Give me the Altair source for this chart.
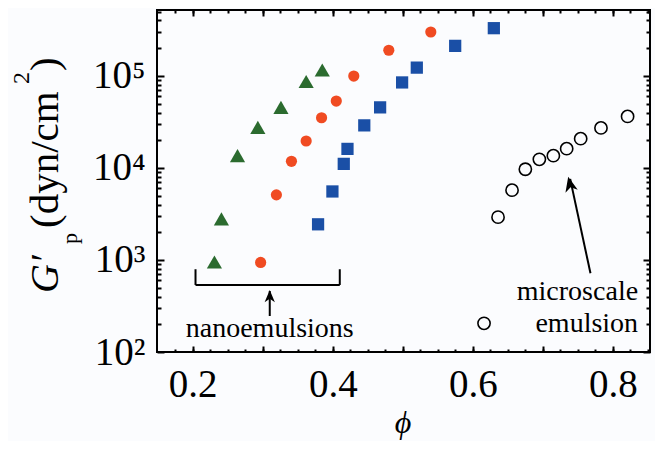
import altair as alt
import pandas as pd

# ---- data ----
tri_phi = [0.231, 0.241, 0.264, 0.293, 0.326, 0.362, 0.385]
tri_g = [950, 2800, 13600, 27600, 45500, 86900, 116000]

circ_phi = [0.297, 0.3195, 0.341, 0.362, 0.384, 0.405, 0.430, 0.480, 0.540]
circ_g = [940, 5100, 11800, 19600, 35100, 53300, 99600, 190000, 300000]

sq_phi = [0.379, 0.3995, 0.4157, 0.421, 0.445, 0.4676, 0.499, 0.520, 0.5748, 0.630]
sq_g = [2440, 5550, 11070, 16100, 29000, 45500, 84900, 123000, 212000, 330000]

open_phi = [0.616, 0.636, 0.656, 0.675, 0.695, 0.715, 0.734, 0.754, 0.783, 0.821]
open_g = [205, 2920, 5730, 9680, 12400, 13600, 16200, 20800, 27200, 36300]

# annotation geometry (data coordinates)
line_x1 = [0.204, 0.204, 0.41, 0.31, 0.768]
line_x2 = [0.204, 0.41, 0.41, 0.31, 0.739]
line_y1 = [793, 535, 793, 246, 716]
line_y2 = [535, 535, 535, 460, 7600]

nano_head_phi = [0.31]
nano_head_g = [472]
micro_head_phi = [0.7362]
micro_head_g = [8035]

nano_label_phi = [0.31]
nano_label_g = [146]
nano_label = ["nanoemulsions"]
micro_label_phi = [0.836, 0.836]
micro_label_g = [367, 166]
micro_label = ["microscale", "emulsion"]

x_major = [0.2, 0.3, 0.4, 0.5, 0.6, 0.7, 0.8]
x_minor = [0.175, 0.2, 0.225, 0.25, 0.275, 0.3, 0.325, 0.35, 0.375, 0.4, 0.425,
           0.45, 0.475, 0.5, 0.525, 0.55, 0.575, 0.6, 0.625, 0.65, 0.675, 0.7,
           0.725, 0.75, 0.775, 0.8, 0.825, 0.85]
y_major = [100, 1000, 10000, 100000]
y_minor = [200, 300, 400, 500, 600, 700, 800, 900,
           2000, 3000, 4000, 5000, 6000, 7000, 8000, 9000,
           20000, 30000, 40000, 50000, 60000, 70000, 80000, 90000,
           200000, 300000, 400000, 500000]

FONT = "Liberation Serif"
XS = alt.Scale(domain=[0.149, 0.853], nice=False, zero=False)
YS = alt.Scale(type="log", domain=[100, 520000], nice=False)


def df(phi, g):
    return pd.DataFrame({"phi": phi, "g": g})


def enc(chart, xaxis=None, yaxis=None):
    return chart.encode(
        x=alt.X("phi:Q", scale=XS, axis=xaxis),
        y=alt.Y("g:Q", scale=YS, axis=yaxis),
    )


all_df = df(tri_phi + circ_phi + sq_phi + open_phi, tri_g + circ_g + sq_g + open_g)

common_tick = dict(domain=False, grid=False, tickColor="black", tickWidth=2,
                   labelFont=FONT, labelColor="black", labelOverlap=False,
                   labelFlush=False)

ax_bottom = alt.Axis(orient="bottom", values=x_major, tickSize=6, offset=-6,
                     labelExpr="indexof(['0.2','0.4','0.6','0.8'], format(datum.value,'.1f')) >= 0 ? format(datum.value,'.1f') : ''",
                     labelFontSize=39, labelPadding=13, title=None, **common_tick)
ax_top = alt.Axis(orient="top", values=x_major, tickSize=6, offset=-6,
                  labels=False, title=None, **common_tick)
ax_bottom_minor = alt.Axis(orient="bottom", values=x_minor, tickSize=3, offset=-3,
                           labels=False, title=None, **common_tick)
ax_top_minor = alt.Axis(orient="top", values=x_minor, tickSize=3, offset=-3,
                        labels=False, title=None, **common_tick)

ax_left = alt.Axis(orient="left", values=y_major, tickSize=7, offset=-7,
                   labelExpr="datum.value == 100 ? '10²' : datum.value == 1000 ? '10³' : datum.value == 10000 ? '10⁴' : '10⁵'",
                   labelFontSize=39, labelPadding=12, title=None, **common_tick)
ax_right = alt.Axis(orient="right", values=y_major, tickSize=7, offset=-7,
                    labels=False, title=None, **common_tick)
ax_left_minor = alt.Axis(orient="left", values=y_minor, tickSize=4, offset=-4,
                         labels=False, title=None, **common_tick)
ax_right_minor = alt.Axis(orient="right", values=y_minor, tickSize=4, offset=-4,
                          labels=False, title=None, **common_tick)

base_axes = alt.Chart(all_df).mark_point(opacity=0)
axis_layers = [
    enc(base_axes, ax_bottom, ax_left),
    enc(base_axes, ax_top, ax_right),
    enc(base_axes, ax_bottom_minor, ax_left_minor),
    enc(base_axes, ax_top_minor, ax_right_minor),
]

tri = enc(alt.Chart(df(tri_phi, tri_g)).mark_point(
    shape="triangle-up", filled=True, color="#2b6b2f", opacity=1, size=230))
circ = enc(alt.Chart(df(circ_phi, circ_g)).mark_point(
    shape="circle", filled=True, color="#f04b22", opacity=1, size=125))
sq = enc(alt.Chart(df(sq_phi, sq_g)).mark_point(
    shape="square", filled=True, color="#1a4fa6", opacity=1, size=150))
opn = enc(alt.Chart(df(open_phi, open_g)).mark_point(
    shape="circle", filled=False, color="black", strokeWidth=1.6, opacity=1, size=150))

lines_df = pd.DataFrame({"x1": line_x1, "x2": line_x2, "y1": line_y1, "y2": line_y2})
rules = alt.Chart(lines_df).mark_rule(color="black", strokeWidth=2).encode(
    x=alt.X("x1:Q", scale=XS, axis=None),
    x2="x2:Q",
    y=alt.Y("y1:Q", scale=YS, axis=None),
    y2="y2:Q",
)

HEAD = "M0,0L0.42,1L0,0.72L-0.42,1Z"
nano_head = enc(alt.Chart(df(nano_head_phi, nano_head_g)).mark_point(
    shape=HEAD, filled=True, color="black", opacity=1, size=600, strokeWidth=0))
micro_head = enc(alt.Chart(df(micro_head_phi, micro_head_g)).mark_point(
    shape=HEAD, filled=True, color="black", opacity=1, size=900, strokeWidth=0, angle=347))

nano_txt = alt.Chart(pd.DataFrame({"phi": nano_label_phi, "g": nano_label_g, "t": nano_label})).mark_text(
    font=FONT, fontSize=28, align="center", baseline="alphabetic", color="black").encode(
    x=alt.X("phi:Q", scale=XS, axis=None), y=alt.Y("g:Q", scale=YS, axis=None), text="t:N")
micro_txt = alt.Chart(pd.DataFrame({"phi": micro_label_phi, "g": micro_label_g, "t": micro_label})).mark_text(
    font=FONT, fontSize=28, align="right", baseline="alphabetic", color="black").encode(
    x=alt.X("phi:Q", scale=XS, axis=None), y=alt.Y("g:Q", scale=YS, axis=None), text="t:N")

one = pd.DataFrame({"a": [0]})


def ttl(text, x, y, size, style="normal", angle=270, align="left"):
    return alt.Chart(one).mark_text(
        text=text, font=FONT, fontSize=size, fontStyle=style, angle=angle,
        align=align, baseline="alphabetic", color="black").encode(
        x=alt.value(x), y=alt.value(y))


title_layers = [
    # y title: G'_p (dyn/cm^2), rotated
    ttl("G′", -99, 283, 40, "italic"),
    ttl("p", -80, 234, 22),
    ttl("(dyn/cm", -99, 218, 41),
    ttl("2", -128, 74, 24),
    ttl(")", -99, 61, 41),
    # x title
    ttl("ϕ", 246, 423, 32, "italic", angle=0, align="center"),
]

chart = alt.layer(
    *axis_layers, rules, nano_head, micro_head, tri, circ, sq, opn,
    nano_txt, micro_txt, *title_layers
).resolve_axis(x="independent", y="independent").properties(
    width=493, height=342,
    autosize=alt.AutoSizeParams(type="none"),
    padding={"left": 149, "top": 2, "right": 5, "bottom": 89},
    background="#fbfcfe",
).configure_view(stroke="black", strokeWidth=2)

chart.save("out.html", embed_options={"renderer": "svg", "actions": False})
